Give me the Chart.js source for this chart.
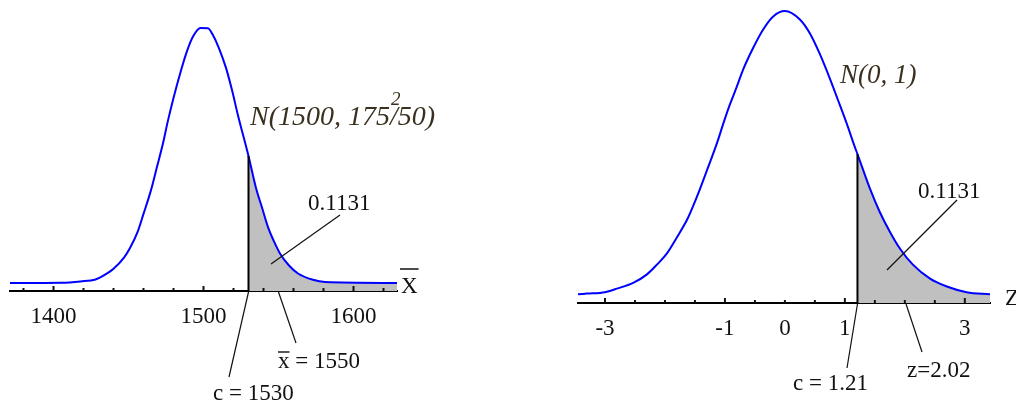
<!DOCTYPE html>
<html>
<head>
<meta charset="utf-8">
<script src="https://cdn.jsdelivr.net/npm/chart.js@4.4.0/dist/chart.umd.min.js"></script>
<style>
  html, body { margin: 0; padding: 0; background: #fff; }
  #wrap { position: relative; width: 1016px; height: 403px; overflow: hidden; background: #fff; }
  #wrap canvas { position: absolute; left: 0; top: 0; }
</style>
</head>
<body>
<div id="wrap">
  <canvas id="sampleMean" width="1016" height="403"></canvas>
  <canvas id="standard" width="1016" height="403"></canvas>
</div>
<script>
// ---- Sampling distribution of the mean: N(1500, 175^2/50) ----
const MU = 1500, SIGMA = 175, N_SAMPLE = 50;
const XBAR_VALUES = [1371, 1405, 1418, 1428, 1433, 1440, 1447, 1451, 1456, 1460, 1465, 1469, 1473,
  1476, 1480, 1485, 1489, 1493, 1498, 1503, 1506, 1510, 1515, 1519, 1523, 1527, 1530, 1535,
  1539, 1543, 1547, 1551, 1557, 1563, 1573, 1581, 1629];
const XBAR_DENSITY = [0, 0.00002, 0.00010, 0.00022, 0.00045, 0.00090, 0.00160, 0.00220, 0.00320,
  0.00435, 0.00585, 0.00732, 0.00880, 0.01010, 0.01165, 0.01338, 0.01460, 0.01552, 0.01606,
  0.01604, 0.01566, 0.01486, 0.01355, 0.01215, 0.01055, 0.00910, 0.00800, 0.00598, 0.00475,
  0.00352, 0.00262, 0.00186, 0.00110, 0.00060, 0.00020, 0.00006, 0];
const XBAR_TICK_LABELS = [1400, 1500, 1600];
const XBAR_CRITICAL = 1530;
const XBAR_OBSERVED = 1550;

// ---- Standard normal: N(0, 1) ----
const Z_VALUES = [-3.45, -3.3, -3.0, -2.8, -2.53, -2.3, -2.13, -1.97, -1.8, -1.63, -1.55, -1.42,
  -1.3, -1.13, -1.03, -0.92, -0.8, -0.7, -0.53, -0.37, -0.2, 0, 0.25, 0.42, 0.58, 0.75, 0.88,
  1.03, 1.17, 1.21, 1.42, 1.58, 1.75, 1.92, 2.13, 2.42, 2.7, 3.03, 3.42];
const Z_DENSITY = [0.001, 0.002, 0.004, 0.009, 0.017, 0.029, 0.043, 0.058, 0.081, 0.106, 0.121,
  0.148, 0.175, 0.214, 0.240, 0.267, 0.293, 0.316, 0.347, 0.372, 0.391, 0.399, 0.387, 0.367,
  0.339, 0.304, 0.275, 0.241, 0.207, 0.198, 0.149, 0.117, 0.089, 0.065, 0.043, 0.023, 0.012,
  0.004, 0.001];
const Z_TICK_LABELS = [-3, -1, 0, 1, 3];
const Z_CRITICAL = 1.21;
const Z_OBSERVED = 2.02;

const TAIL_PROBABILITY = '0.1131';

// ---- Drawing ----
const W = 1016, H = 403, AXIS_H = 40;
const SERIF = '"Liberation Serif", "Times New Roman", serif';
const TITLE_COLOR = '#3a3020';
const INK = '#111';

Chart.defaults.font.family = SERIF;

function text(ctx, str, x, y, font, color) {
  ctx.font = font;
  ctx.fillStyle = color || INK;
  ctx.textAlign = 'left';
  ctx.textBaseline = 'alphabetic';
  ctx.fillText(str, x, y);
  return ctx.measureText(str).width;
}

function line(ctx, x1, y1, x2, y2, w) {
  ctx.beginPath();
  ctx.moveTo(x1, y1);
  ctx.lineTo(x2, y2);
  ctx.lineWidth = w;
  ctx.strokeStyle = INK;
  ctx.stroke();
}

function buildChart(id, s) {
  const pts = s.xs.map((x, i) => ({ x, y: s.ys[i] }));
  const ci = s.xs.indexOf(s.critical);
  const tail = pts.slice(ci);
  const peak = Math.max(...s.ys);
  const L = s.box;
  const pxPerUnit = (L.base - L.peakY) / peak;
  const yMin = -(L.axis - L.base) / pxPerUnit;
  const yMax = (L.base - L.top) / pxPerUnit;

  const overlay = {
    id: 'overlay-' + id,
    afterDraw(chart) {
      const ctx = chart.ctx;
      const xs = chart.scales.x;
      const axisY = chart.chartArea.bottom;
      ctx.save();
      // tick marks pointing up from the axis
      xs.ticks.forEach(t => {
        const px = xs.getPixelForValue(t.value);
        const len = s.isMajor(t.value) ? 5 : 3;
        line(ctx, px, axisY, px, axisY - len, 2);
      });
      // axis name
      s.axisName(ctx, axisY);
      // leader lines
      s.leaders.forEach(l => {
        const from = l.value !== undefined ? [xs.getPixelForValue(l.value), axisY + 1] : l.from;
        line(ctx, from[0], from[1], l.to[0], l.to[1], l.w || 1.2);
      });
      // labels
      s.labels(ctx);
      ctx.restore();
    }
  };

  return new Chart(document.getElementById(id), {
    type: 'line',
    data: {
      datasets: [
        {
          data: [{ x: s.critical, y: yMin }, { x: s.critical, y: s.ys[ci] }],
          borderColor: '#000', borderWidth: 2, pointRadius: 0, fill: false, order: 0
        },
        {
          data: pts, borderColor: '#0000ff', borderWidth: 2, pointRadius: 0,
          cubicInterpolationMode: 'monotone', fill: false, order: 1
        },
        {
          data: tail, borderWidth: 0, borderColor: 'rgba(0,0,0,0)', backgroundColor: '#c0c0c0',
          pointRadius: 0, cubicInterpolationMode: 'monotone', fill: 'start', order: 2
        }
      ]
    },
    options: {
      responsive: false,
      animation: false,
      events: [],
      layout: { padding: { left: L.left, right: W - L.right, top: L.top, bottom: H - L.axis - AXIS_H } },
      plugins: { legend: { display: false }, tooltip: { enabled: false } },
      scales: {
        x: {
          type: 'linear',
          min: s.xs[0],
          max: s.xs[s.xs.length - 1],
          afterFit(scale) { scale.height = AXIS_H; },
          grid: { display: false, drawTicks: false },
          border: { display: true, color: '#000', width: 2 },
          ticks: {
            stepSize: s.step,
            includeBounds: false,
            autoSkip: false,
            maxRotation: 0,
            padding: 12,
            color: INK,
            font: { size: 23, family: SERIF },
            callback: v => (s.tickLabels.includes(v) ? String(v) : '')
          }
        },
        y: { type: 'linear', display: false, min: yMin, max: yMax }
      }
    },
    plugins: [overlay]
  });
}

// Left panel: distribution of the sample mean
buildChart('sampleMean', {
  xs: XBAR_VALUES, ys: XBAR_DENSITY, critical: XBAR_CRITICAL, step: 20,
  tickLabels: XBAR_TICK_LABELS,
  isMajor: v => v % 100 === 0,
  box: { left: 10, right: 397, top: 20, base: 283, peakY: 28, axis: 291 },
  axisName(ctx, axisY) {
    const w = text(ctx, 'X', 401, axisY + 2, '23px ' + SERIF);
    line(ctx, 400, axisY - 22, 401 + w + 1, axisY - 22, 1.5);
  },
  leaders: [
    { from: [340, 215], to: [271, 264] },
    { value: XBAR_CRITICAL, to: [229, 377] },
    { value: XBAR_OBSERVED, to: [296, 343] }
  ],
  labels(ctx) {
    const f = '23px ' + SERIF;
    text(ctx, TAIL_PROBABILITY, 308, 210, f);
    text(ctx, 'c = ' + XBAR_CRITICAL, 213, 400, f);
    ctx.font = f;
    const xw = ctx.measureText('x').width;
    text(ctx, 'x = ' + XBAR_OBSERVED, 278, 368, f);
    line(ctx, 278, 352, 278 + xw, 352, 1.4);
    // N(1500, 175²/50)
    const it = 'italic 28px ' + SERIF;
    const head = 'N(' + MU + ', ' + SIGMA;
    const w1 = text(ctx, head, 250, 125, it, TITLE_COLOR);
    text(ctx, '2', 250 + w1 + 1, 105, 'italic 19px ' + SERIF, TITLE_COLOR);
    text(ctx, '/' + N_SAMPLE + ')', 250 + w1, 125, it, TITLE_COLOR);
  }
});

// Right panel: standardised scale
buildChart('standard', {
  xs: Z_VALUES, ys: Z_DENSITY, critical: Z_CRITICAL, step: 0.5,
  tickLabels: Z_TICK_LABELS,
  isMajor: v => [-3, -1, 1, 3].includes(v),
  box: { left: 578, right: 990, top: 5, base: 295, peakY: 11, axis: 303 },
  axisName(ctx, axisY) {
    text(ctx, 'Z', 1005, axisY + 2, '23px ' + SERIF);
  },
  leaders: [
    { from: [957, 200], to: [887, 270] },
    { value: Z_CRITICAL, to: [847, 368] },
    { value: Z_OBSERVED, to: [922, 352] }
  ],
  labels(ctx) {
    const f = '23px ' + SERIF;
    text(ctx, TAIL_PROBABILITY, 918, 198, f);
    text(ctx, 'c = ' + Z_CRITICAL, 793, 390, f);
    text(ctx, 'z=' + Z_OBSERVED, 907, 377, f);
    text(ctx, 'N(0, 1)', 840, 83, 'italic 27px ' + SERIF, TITLE_COLOR);
  }
});
</script>
</body>
</html>
